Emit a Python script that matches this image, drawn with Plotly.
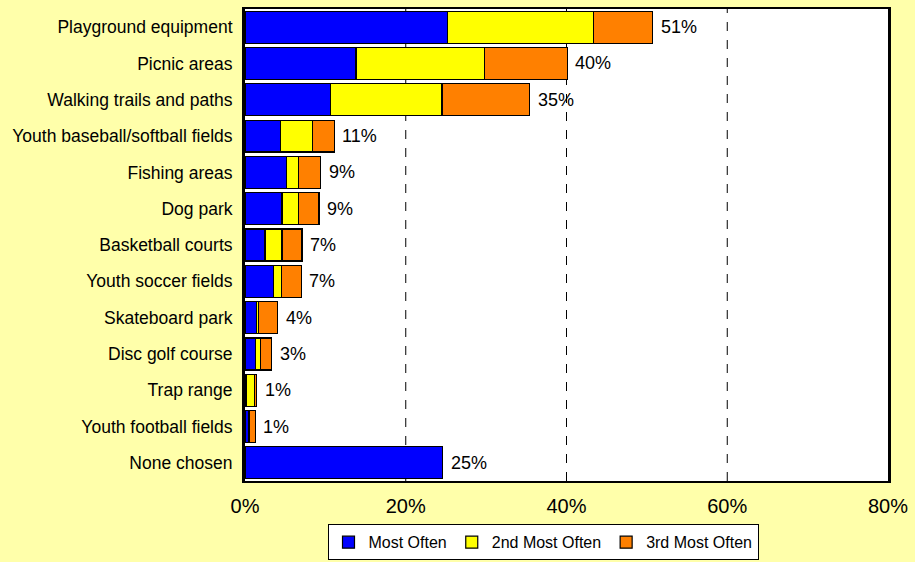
import plotly.graph_objects as go

categories = ["Playground equipment", "Picnic areas", "Walking trails and paths",
              "Youth baseball/softball fields", "Fishing areas", "Dog park",
              "Basketball courts", "Youth soccer fields", "Skateboard park",
              "Disc golf course", "Trap range", "Youth football fields", "None chosen"]
most_often = [25.2, 13.8, 10.6, 4.4, 5.2, 4.6, 2.5, 3.5, 1.45, 1.3, 0.2, 0.4, 24.6]
second_most = [18.2, 16.0, 13.9, 4.0, 1.5, 2.1, 2.1, 1.0, 0.25, 0.6, 1.0, 0.15, 0.0]
third_most = [7.3, 10.3, 10.9, 2.7, 2.7, 2.5, 2.5, 2.5, 2.35, 1.4, 0.25, 0.75, 0.0]
total_labels = ["51%", "40%", "35%", "11%", "9%", "9%", "7%", "7%", "4%", "3%", "1%", "1%", "25%"]
tick_vals = [0, 20, 40, 60, 80]
tick_text = ["0%", "20%", "40%", "60%", "80%"]

FONT = "Liberation Sans, Arial, sans-serif"

fig = go.Figure()
series = [("Most Often", most_often, "#0000FF"),
          ("2nd Most Often", second_most, "#FFFF00"),
          ("3rd Most Often", third_most, "#FF8000")]
for name, vals, col in series:
    fig.add_trace(go.Bar(y=categories, x=vals, name=name, orientation="h",
                         marker=dict(color=col, line=dict(color="#000000", width=1.2))))

totals = [a + b + c for a, b, c in zip(most_often, second_most, third_most)]
for cat, t, lab in zip(categories, totals, total_labels):
    fig.add_annotation(x=t, y=cat, text=lab, showarrow=False, xanchor="left",
                       xshift=6, font=dict(size=18, color="#000000", family=FONT))

for g in [20, 40, 60]:
    fig.add_shape(type="line", x0=g, x1=g, y0=0, y1=1, yref="paper", xref="x",
                  line=dict(color="#000000", width=1, dash="dash"), layer="below")

fig.update_layout(
    barmode="stack",
    bargap=0.12,
    width=915, height=562,
    margin=dict(l=245, r=25, t=7, b=81),
    paper_bgcolor="#FFFFAA",
    plot_bgcolor="#FFFFFF",
    font=dict(family=FONT, color="#000000", size=16),
    showlegend=True,
    legend=dict(orientation="h", xref="container", yref="container",
                x=543 / 915, xanchor="center", y=0.003, yanchor="bottom",
                bgcolor="#FFFFFF", bordercolor="#000000", borderwidth=1,
                font=dict(size=16, family=FONT), itemwidth=30,
                traceorder="normal"),
    xaxis=dict(range=[0, 80], tickvals=tick_vals, ticktext=tick_text,
               showgrid=False, zeroline=False, showline=True, linecolor="#000000",
               linewidth=2, mirror=True, ticks="", tickfont=dict(size=20),
               ticklabelstandoff=6),
    yaxis=dict(autorange="reversed", showgrid=False, showline=True,
               linecolor="#000000", linewidth=3, mirror=True, ticks="",
               tickfont=dict(size=17.5), ticklabelstandoff=6),
)

fig.write_html("out.html", post_script="document.body.style.margin='0';",
               config={"displayModeBar": False})
